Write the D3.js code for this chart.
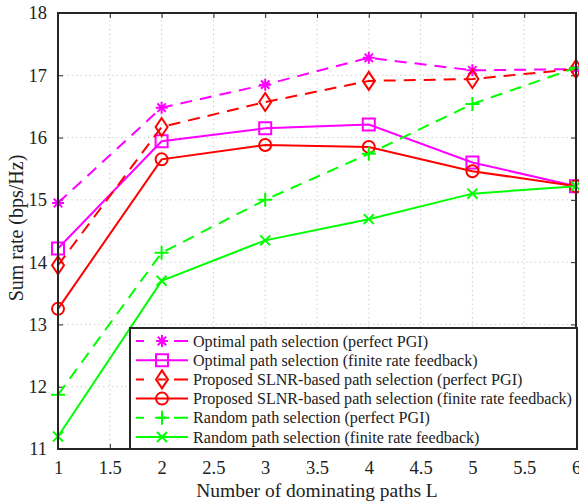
<!DOCTYPE html>
<html>
<head>
<meta charset="utf-8">
<script src="https://cdn.jsdelivr.net/npm/d3@7/dist/d3.min.js"></script>
<style>
  html, body { margin: 0; padding: 0; background: #fff; }
  svg { display: block; }
  text { font-family: "Liberation Serif", "Times New Roman", serif; fill: #222; }
</style>
</head>
<body>
<svg id="chart" width="579" height="504"></svg>
<script>
// Number of dominating paths
const paths = [1, 2, 3, 4, 5, 6];

// Sum rate (bps/Hz) for each scheme
const optimalPerfect   = [14.95, 16.48, 16.85, 17.28, 17.08, 17.10];
const optimalFinite    = [14.22, 15.94, 16.15, 16.21, 15.60, 15.22];
const slnrPerfect      = [13.95, 16.17, 16.57, 16.91, 16.94, 17.10];
const slnrFinite       = [13.25, 15.65, 15.88, 15.85, 15.46, 15.22];
const randomPerfect    = [11.87, 14.15, 15.00, 15.74, 16.54, 17.12];
const randomFinite     = [11.20, 13.70, 14.35, 14.69, 15.10, 15.22];

const seriesNames = [
  "Optimal path selection (perfect PGI)",
  "Optimal path selection (finite rate feedback)",
  "Proposed SLNR-based path selection (perfect PGI)",
  "Proposed SLNR-based path selection (finite rate feedback)",
  "Random path selection (perfect PGI)",
  "Random path selection (finite rate feedback)"
];

const xTicks = [1, 1.5, 2, 2.5, 3, 3.5, 4, 4.5, 5, 5.5, 6];
const yTicks = [11, 12, 13, 14, 15, 16, 17, 18];

const series = [
  { name: seriesNames[0], values: optimalPerfect, color: "#ff00ff", dashed: true,  marker: "asterisk" },
  { name: seriesNames[1], values: optimalFinite,  color: "#ff00ff", dashed: false, marker: "square" },
  { name: seriesNames[2], values: slnrPerfect,    color: "#ff0000", dashed: true,  marker: "diamond" },
  { name: seriesNames[3], values: slnrFinite,     color: "#ff0000", dashed: false, marker: "circle" },
  { name: seriesNames[4], values: randomPerfect,  color: "#00ff00", dashed: true,  marker: "plus" },
  { name: seriesNames[5], values: randomFinite,   color: "#00ff00", dashed: false, marker: "cross" }
];

const svg = d3.select("#chart");
const margin = { left: 58, top: 13, right: 3, bottom: 55 };
const W = 579, H = 504;
const x = d3.scaleLinear().domain([1, 6]).range([margin.left, W - margin.right]);
const y = d3.scaleLinear().domain([11, 18]).range([H - margin.bottom, margin.top]);

const x0 = x.range()[0], x1 = x.range()[1];
const y0 = y.range()[0], y1 = y.range()[1];

// dotted grid
const grid = svg.append("g").attr("stroke", "#d0d0d0").attr("stroke-width", 1)
  .attr("stroke-dasharray", "1.5,3");
grid.selectAll("line.vx").data(xTicks.slice(1, -1)).join("line")
  .attr("x1", d => x(d)).attr("x2", d => x(d)).attr("y1", y0).attr("y2", y1);
grid.selectAll("line.hy").data(yTicks.slice(1, -1)).join("line")
  .attr("x1", x0).attr("x2", x1).attr("y1", d => y(d)).attr("y2", d => y(d));

// axes with inward ticks
const tickLen = 5;
const fmt = d => String(d);
svg.append("g").attr("transform", `translate(0,${y0})`)
  .call(d3.axisBottom(x).tickValues(xTicks).tickSize(-tickLen).tickPadding(12).tickFormat(fmt))
  .call(g => g.select(".domain").remove());
svg.append("g").attr("transform", `translate(0,${y1})`)
  .call(d3.axisTop(x).tickValues(xTicks).tickSize(-tickLen).tickFormat(""))
  .call(g => g.select(".domain").remove());
svg.append("g").attr("transform", `translate(${x0},0)`)
  .call(d3.axisLeft(y).tickValues(yTicks).tickSize(-tickLen).tickPadding(11).tickFormat(fmt))
  .call(g => g.select(".domain").remove());
svg.append("g").attr("transform", `translate(${x1},0)`)
  .call(d3.axisRight(y).tickValues(yTicks).tickSize(-tickLen).tickFormat(""))
  .call(g => g.select(".domain").remove());
svg.selectAll(".tick line").attr("stroke", "#262626").attr("stroke-width", 1);
svg.selectAll(".tick text").attr("font-size", 18.5).attr("fill", "#262626")
  .attr("font-family", "'Liberation Serif', 'Times New Roman', serif");

// markers
function drawMarker(g, type, color) {
  const p = g.append("path").attr("fill", "none").attr("stroke", color).attr("stroke-width", 2);
  let d;
  switch (type) {
    case "asterisk": {
      const r = 6;
      d = `M0,${-r}V${r}M${-r},0H${r}` +
          `M${-r * 0.7},${-r * 0.7}L${r * 0.7},${r * 0.7}M${-r * 0.7},${r * 0.7}L${r * 0.7},${-r * 0.7}`;
      break;
    }
    case "square": d = "M-6,-6H6V6H-6Z"; break;
    case "diamond": d = "M0,-9L6,0L0,9L-6,0Z"; break;
    case "circle": d = "M6,0A6,6 0 1 1 -6,0A6,6 0 1 1 6,0Z"; break;
    case "plus": d = "M0,-7V7M-7,0H7"; break;
    case "cross": d = "M-5,-5L5,5M-5,5L5,-5"; break;
  }
  p.attr("d", d);
}

const line = d3.line().x((d, i) => x(paths[i])).y(d => y(d));

const plot = svg.append("g");
series.forEach(s => {
  plot.append("path").datum(s.values)
    .attr("d", line)
    .attr("fill", "none")
    .attr("stroke", s.color)
    .attr("stroke-width", 2)
    .attr("stroke-dasharray", s.dashed ? "12,8" : null);
  s.values.forEach((v, i) => {
    const g = plot.append("g").attr("transform", `translate(${x(paths[i])},${y(v)})`);
    drawMarker(g, s.marker, s.color);
  });
});

// axes box
svg.append("rect").attr("x", x0).attr("y", y1).attr("width", x1 - x0).attr("height", y0 - y1)
  .attr("fill", "none").attr("stroke", "#262626").attr("stroke-width", 2);

// legend
const lg = { x: 130, y: 328, w: 447, h: 121, row: 19.2 };
const legend = svg.append("g");
legend.append("rect").attr("x", lg.x).attr("y", lg.y).attr("width", lg.w).attr("height", lg.h)
  .attr("fill", "#fff").attr("stroke", "#262626").attr("stroke-width", 2);
series.forEach((s, i) => {
  const cy = lg.y + 13 + i * lg.row;
  const row = legend.append("g");
  row.append("line").attr("x1", 136).attr("x2", 188).attr("y1", cy).attr("y2", cy)
    .attr("stroke", s.color).attr("stroke-width", 2)
    .attr("stroke-dasharray", s.dashed ? "8,14,8" : null);
  const g = row.append("g").attr("transform", `translate(162,${cy})`);
  drawMarker(g, s.marker, s.color);
  row.append("text").attr("x", 193).attr("y", cy + 5.5).attr("font-size", 16.1).attr("fill", "#222")
    .text(s.name);
});

// axis titles
svg.append("text").attr("x", (x0 + x1) / 2).attr("y", 497).attr("text-anchor", "middle")
  .attr("font-size", 19.5).attr("fill", "#262626").text("Number of dominating paths L");
svg.append("text").attr("transform", `translate(23,${(y0 + y1) / 2 - 3}) rotate(-90)`)
  .attr("text-anchor", "middle").attr("font-size", 20).attr("fill", "#262626")
  .text("Sum rate (bps/Hz)");
</script>
</body>
</html>
